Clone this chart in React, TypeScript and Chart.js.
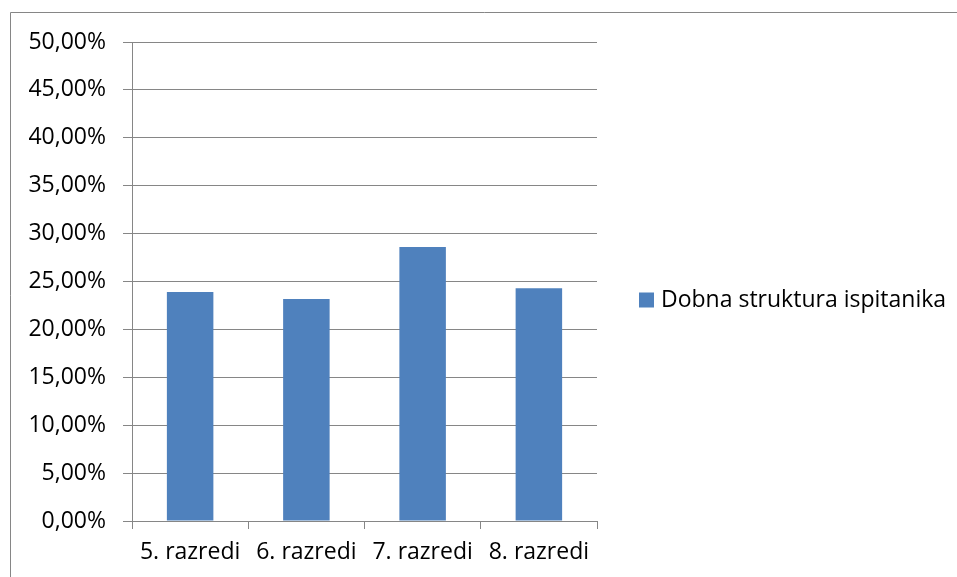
import React, { useEffect, useRef } from "react";
import { Chart, registerables } from "chart.js";

Chart.register(...registerables);

const categories = ["5. razredi", "6. razredi", "7. razredi", "8. razredi"];
const seriesName = "Dobna struktura ispitanika";
const values = [23.9, 23.17, 28.6, 24.3];
const yMin = 0;
const yMax = 50;
const yStep = 5;

const FONT = "'Open Sans'";
const FSIZE = 23;
const GRID = "#868686";
const BAR = "#4F81BD";

const fmt = (v: number) => v.toFixed(2).replace(".", ",") + "%";

const framePlugin = {
  id: "frameLegend",
  afterDraw(chart: any) {
    const ctx = chart.ctx;
    ctx.save();
    ctx.strokeStyle = GRID;
    ctx.lineWidth = 1;
    ctx.beginPath();
    ctx.moveTo(10.5, 1000);
    ctx.lineTo(10.5, 12.5);
    ctx.lineTo(1000, 12.5);
    ctx.stroke();
    // legend
    const ds = chart.data.datasets[0];
    const y = 300;
    ctx.fillStyle = ds.backgroundColor;
    ctx.fillRect(639, y - 7.5, 15, 15);
    ctx.fillStyle = "#000";
    ctx.font = `${FSIZE}px ${FONT}`;
    ctx.textBaseline = "middle";
    ctx.textAlign = "left";
    ctx.fillText(ds.label, 661, y);
    ctx.restore();
  },
};

export default function App() {
  const ref = useRef<HTMLCanvasElement | null>(null);
  useEffect(() => {
    if (!ref.current) return;
    const chart = new Chart(ref.current, {
      type: "bar",
      data: {
        labels: categories,
        datasets: [
          {
            label: seriesName,
            data: values,
            backgroundColor: BAR,
            categoryPercentage: 1,
            barPercentage: 0.4,
          },
        ],
      },
      options: {
        animation: false,
        responsive: false,
        devicePixelRatio: 1,
        layout: { padding: { left: 0, top: 42, right: 360, bottom: 0 } },
        plugins: { legend: { display: false }, tooltip: { enabled: false } },
        scales: {
          x: {
            offset: true,
            grid: {
              offset: true,
              drawOnChartArea: false,
              drawTicks: true,
              tickLength: 8,
              color: GRID,
            },
            border: { color: GRID },
            ticks: { color: "#000", font: { family: FONT, size: FSIZE }, padding: 10, maxRotation: 0 },
            afterFit: (s: any) => {
              s.height = 56;
            },
          },
          y: {
            min: yMin,
            max: yMax,
            grid: { color: GRID, tickLength: 9 },
            border: { color: GRID },
            ticks: {
              stepSize: yStep,
              color: "#000",
              font: { family: FONT, size: FSIZE },
              padding: 17,
              callback: (v: any) => fmt(Number(v)),
            },
            afterFit: (s: any) => {
              s.width = 132;
            },
          },
        },
      },
      plugins: [framePlugin],
    });
    return () => chart.destroy();
  }, []);
  return (
    <div style={{ position: "fixed", left: 0, top: 0, width: 957, height: 577, background: "#fff" }}>
      <canvas ref={ref} width={957} height={577} style={{ display: "block" }} />
    </div>
  );
}
